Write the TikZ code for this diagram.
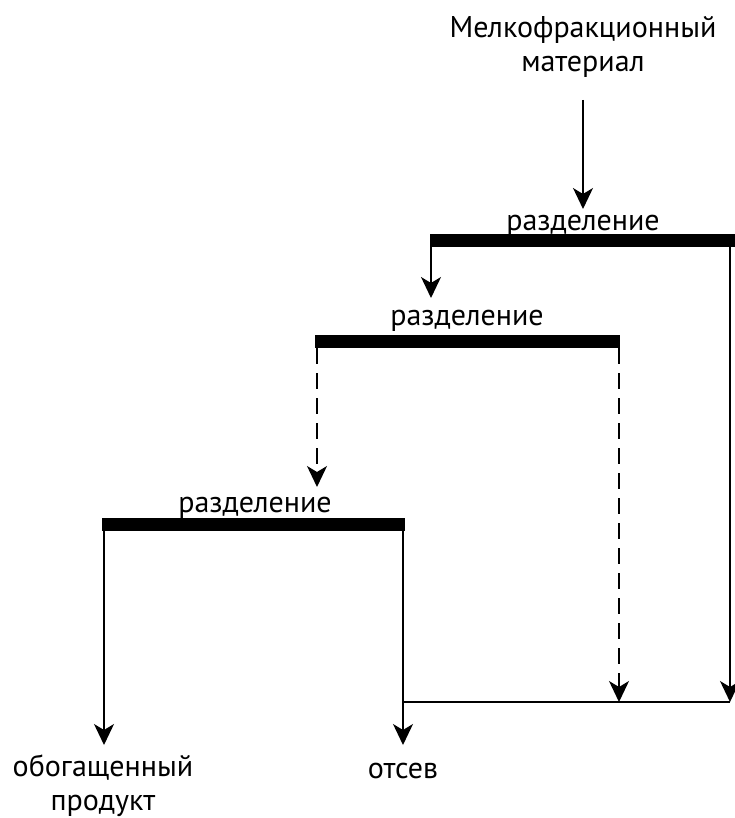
\documentclass[tikz,border=0pt]{standalone}
\usepackage{fontspec}
\setmainfont{PT Sans}
\usetikzlibrary{arrows.meta}
\begin{document}
\begin{tikzpicture}[x=1pt,y=-1pt,>={Stealth[length=21pt,width=20pt,inset=6pt]},
nadpis/.style={font=\fontsize{30}{34}\selectfont,inner sep=0pt,align=center},
lenta/.style={fill=black,inner sep=0pt,minimum height=13pt,anchor=north west},
potok/.style={->,line width=1.6pt},
punktir/.style={potok,dash pattern=on 16pt off 9pt}
]
\useasboundingbox (0,0) rectangle (734,818);

\node[nadpis,anchor=base](vhod) at (583,72){Мелкофракционный\\материал};
\coordinate (v1) at (583,100);
\coordinate (v2) at (583,209);

% ленты разделения
\node[lenta,minimum width=306pt](lenta1) at (430,234){};
\node[lenta,minimum width=305pt](lenta2) at (315,335){};
\node[lenta,minimum width=303pt](lenta3) at (102,518){};

\node[nadpis,anchor=base](razd1) at (583,230){разделение};
\node[nadpis,anchor=base](razd2) at (467,325){разделение};
\node[nadpis,anchor=base](razd3) at (255,512){разделение};

\node[nadpis,anchor=base](obog) at (103,810){обогащенный\\продукт};
\node[nadpis,anchor=base](otsev) at (403,778){отсев};

\coordinate (a1) at (431,298);
\coordinate (a2) at (317,487);
\coordinate (a3) at (104,745);
\coordinate (a4) at (403,745);
\coordinate (s1) at (619,702);
\coordinate (s2) at (730,702);

\begin{scope}[line width=1.6pt]
\draw[potok] (v1)--(v2);
\draw[potok] (lenta1.south west-|a1)--(a1);
\draw[potok] (lenta1.south west-|s2)--(s2);
\draw[punktir] (lenta2.south west-|a2)--(a2);
\draw[punktir] (lenta2.south west-|s1)--(s1);
\draw[potok] (lenta3.south west-|a3)--(a3);
\draw[potok] (lenta3.south west-|a4)--(a4);
\draw (a4|-s1)--(s2);
\end{scope}
\end{tikzpicture}
\end{document}
